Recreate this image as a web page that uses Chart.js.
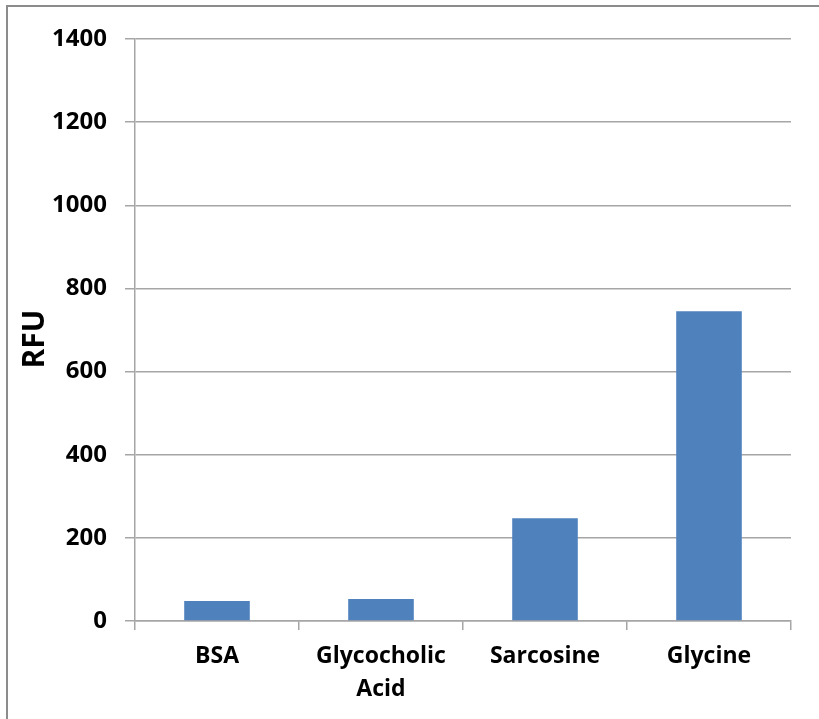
<!DOCTYPE html>
<html>
<head>
<meta charset="utf-8">
<script src="https://cdn.jsdelivr.net/npm/chart.js@4/dist/chart.umd.min.js"></script>
<style>
  html, body { margin: 0; padding: 0; background: #fff; }
  #wrap { position: relative; width: 819px; height: 719px; overflow: hidden; }
  #frame { position: absolute; left: 6px; top: 5px; width: 830px; height: 730px;
           border-top: 2px solid #8c8c8c; border-left: 2px solid #8c8c8c; box-sizing: border-box; }
  canvas { position: absolute; left: 0; top: 0; }
</style>
</head>
<body>
<div id="wrap">
  <div id="frame"></div>
  <canvas id="c" width="819" height="719"></canvas>
</div>
<script>
const categories = ['BSA', ['Glycocholic', 'Acid'], 'Sarcosine', 'Glycine'];
const rfuValues = [48, 53, 247, 745];
const yTicks = [0, 200, 400, 600, 800, 1000, 1200, 1400];
const yTitle = 'RFU';

const FONT = "'Open Sans', 'DejaVu Sans', sans-serif";
const gridColor = '#a6a6a6';

const yTitlePlugin = {
  id: 'yTitlePlugin',
  afterDraw(chart) {
    const ctx = chart.ctx;
    const area = chart.chartArea;
    ctx.save();
    ctx.translate(35, (area.top + area.bottom) / 2 + 9);
    ctx.rotate(-Math.PI / 2);
    ctx.fillStyle = '#000';
    ctx.font = "bold 30px " + FONT;
    ctx.textAlign = 'center';
    ctx.textBaseline = 'middle';
    ctx.fillText(yTitle, 0, 0);
    ctx.restore();
  }
};

new Chart(document.getElementById('c'), {
  type: 'bar',
  data: {
    labels: categories,
    datasets: [{
      data: rfuValues,
      backgroundColor: '#4F81BD',
      borderWidth: 0,
      categoryPercentage: 1.0,
      barPercentage: 0.4
    }]
  },
  options: {
    responsive: false,
    animation: false,
    devicePixelRatio: 1,
    layout: { padding: { left: 7, top: 39, right: 28, bottom: 0 } },
    plugins: { legend: { display: false }, tooltip: { enabled: false } },
    scales: {
      x: {
        offset: true,
        grid: { display: true, drawOnChartArea: false, drawTicks: true, tickLength: 9,
                color: gridColor, lineWidth: 1.5, offset: true },
        border: { display: true, color: gridColor, width: 1.5 },
        ticks: { color: '#000', font: { family: FONT, size: 23, weight: 'bold', lineHeight: 1.43 },
                 padding: 10, maxRotation: 0, autoSkip: false },
        afterFit(scale) { scale.height = 98; }
      },
      y: {
        min: 0, max: 1400,
        afterBuildTicks(scale) { scale.ticks = yTicks.map(v => ({ value: v })); },
        grid: { color: gridColor, lineWidth: 1.5, drawTicks: true, tickLength: 10 },
        border: { display: true, color: gridColor, width: 1.5 },
        ticks: { color: '#000', font: { family: FONT, size: 24, weight: 'bold' }, padding: 18,
                 callback: v => String(v) },
        title: { display: false },
        afterFit(scale) { scale.width = 128; }
      }
    }
  },
  plugins: [yTitlePlugin]
});
</script>
</body>
</html>
